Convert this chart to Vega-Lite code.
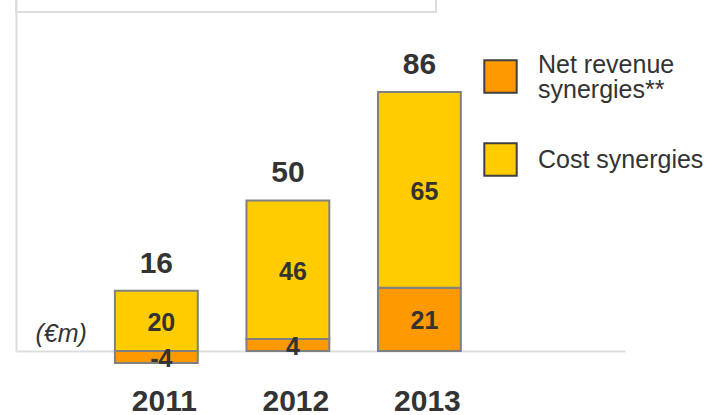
{
  "$schema": "https://vega.github.io/schema/vega-lite/v6.json",
  "width": 609,
  "height": 351,
  "autosize": {"type": "none"},
  "padding": {"left": 16, "top": 0, "right": 92, "bottom": 64},
  "config": {
    "view": {"stroke": null},
    "font": "Liberation Sans",
    "text": {"font": "Liberation Sans"}
  },
  "data": {
    "values": [
      {"year": "2011", "type": "Net revenue synergies**", "value": -4},
      {"year": "2011", "type": "Cost synergies", "value": 20},
      {"year": "2012", "type": "Net revenue synergies**", "value": 4},
      {"year": "2012", "type": "Cost synergies", "value": 46},
      {"year": "2013", "type": "Net revenue synergies**", "value": 21},
      {"year": "2013", "type": "Cost synergies", "value": 65}
    ]
  },
  "resolve": {"scale": {"x": "independent"}},
  "layer": [
    {
      "data": {"values": [{}]},
      "mark": {"type": "rect", "fill": "transparent", "stroke": "#DDDDDD", "strokeWidth": 2},
      "encoding": {
        "x": {"datum": 0, "type": "quantitative", "scale": {"domain": [0, 609], "nice": false, "zero": false}, "axis": null},
        "x2": {"datum": 420},
        "y": {"datum": 112.6, "type": "quantitative"},
        "y2": {"datum": 140}
      }
    },
    {
      "layer": [
        {
          "mark": {"type": "bar", "stroke": "#808080", "strokeWidth": 2},
          "encoding": {
            "x": {
              "field": "year", "type": "nominal",
              "scale": {"paddingInner": 0.37, "paddingOuter": 1.0095, "align": 0.376},
              "axis": {
                "title": null, "ticks": false, "tickSize": 0, "domainColor": "#DDDDDD", "domainWidth": 2,
                "labelAngle": 0, "labelFont": "Liberation Sans", "labelFontSize": 30, "labelFontWeight": "bold",
                "labelColor": "#333333", "labelBaseline": "alphabetic", "labelPadding": 59, "labelOffset": 8
              }
            },
            "y": {
              "field": "value", "type": "quantitative", "stack": "zero",
              "scale": {"domain": [0, 116.6], "nice": false, "zero": false},
              "axis": {
                "labels": false, "ticks": false, "grid": false, "domainColor": "#DDDDDD", "domainWidth": 2,
                "title": "(€m)", "titleAngle": 0, "titleAlign": "left", "titleBaseline": "middle",
                "titleX": 19, "titleY": 333, "titleFont": "Liberation Sans", "titleFontSize": 25,
                "titleFontStyle": "italic", "titleFontWeight": "normal", "titleColor": "#333333"
              }
            },
            "color": {
              "field": "type", "type": "nominal",
              "scale": {"domain": ["Net revenue synergies**", "Cost synergies"], "range": ["#FF9900", "#FFCC00"]},
              "legend": {
                "title": null, "orient": "none", "legendX": 467, "legendY": 59, "padding": 0,
                "symbolType": "square", "symbolSize": 1050, "symbolStrokeColor": "#404040", "symbolStrokeWidth": 2,
                "symbolOpacity": 1,
                "labelFont": "Liberation Sans", "labelFontSize": 25, "labelColor": "#333333", "labelOffset": 20,
                "labelLimit": 400, "rowPadding": 36,
                "labelExpr": "datum.label == 'Net revenue synergies**' ? ['Net revenue', 'synergies**'] : datum.label",
                "encode": {
                  "labels": {
                    "update": {
                      "lineHeight": {"value": 25},
                      "dy": {"signal": "datum.value == 'Net revenue synergies**' ? -12 : 0"}
                    }
                  }
                }
              }
            },
            "order": {"field": "type", "sort": "descending"}
          }
        },
        {
          "transform": [
            {"stack": "value", "groupby": ["year"], "sort": [{"field": "type", "order": "descending"}], "as": ["v0", "v1"]},
            {"calculate": "(datum.v0 + datum.v1) / 2", "as": "mid"}
          ],
          "mark": {"type": "text", "font": "Liberation Sans", "fontSize": 25, "fontWeight": "bold", "color": "#333333", "baseline": "middle", "dx": 5, "dy": 2},
          "encoding": {
            "x": {"field": "year", "type": "nominal"},
            "y": {"field": "mid", "type": "quantitative"},
            "text": {"field": "value", "type": "nominal"}
          }
        },
        {
          "transform": [
            {"stack": "value", "groupby": ["year"], "sort": [{"field": "type", "order": "descending"}], "as": ["v0", "v1"]},
            {"aggregate": [{"op": "max", "field": "v1", "as": "top"}, {"op": "sum", "field": "value", "as": "total"}], "groupby": ["year"]}
          ],
          "mark": {"type": "text", "font": "Liberation Sans", "fontSize": 30, "fontWeight": "bold", "color": "#333333", "baseline": "alphabetic", "dy": -18},
          "encoding": {
            "x": {"field": "year", "type": "nominal"},
            "y": {"field": "top", "type": "quantitative"},
            "text": {"field": "total", "type": "quantitative"}
          }
        }
      ]
    }
  ]
}
